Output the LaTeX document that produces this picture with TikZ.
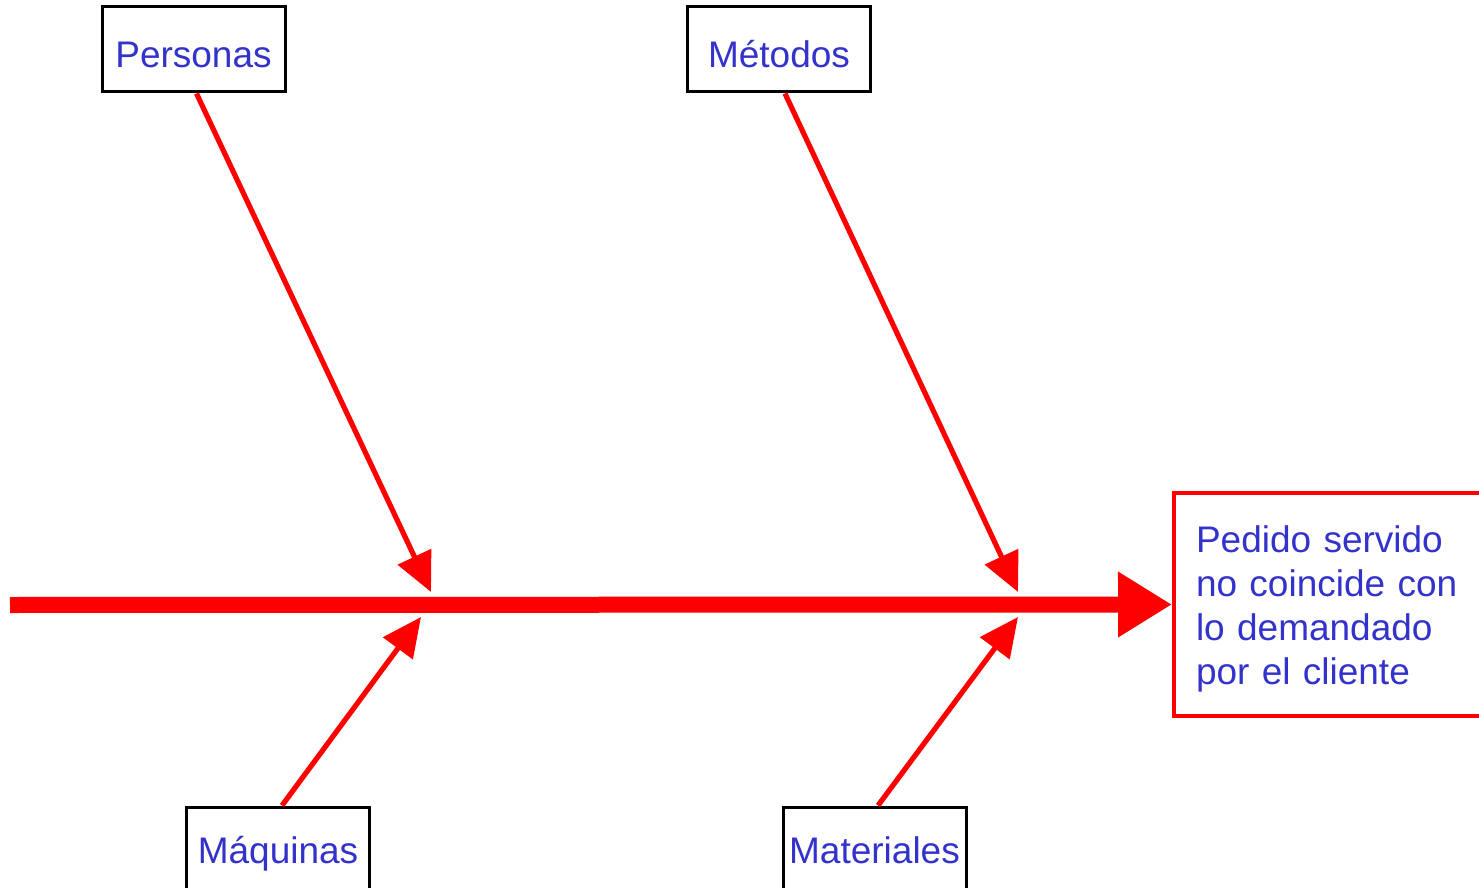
\documentclass[tikz,border=0pt]{standalone}
\usepackage{fontspec}
\setmainfont{Liberation Sans}
\usetikzlibrary{arrows.meta}
\definecolor{causeblue}{RGB}{51,51,204}

\begin{document}
\begin{tikzpicture}[x=.5pt, y=-.5pt,
        causebox/.style={draw=black, line width=1.5pt, fill=white, minimum width=91.5pt, minimum height=42.5pt, inner sep=0pt, text depth=0pt, text=causeblue, font=\fontsize{18.5}{22}\selectfont},
        bone/.style={draw=red, line width=2.6pt, -{Triangle[length=19.5pt, width=18pt]}},
        spine/.style={draw=red, line width=8pt, -{Triangle[length=27pt, width=31pt]}}]
        \useasboundingbox (0, 0) rectangle (1479, 888);
        \clip (0, 0) rectangle (1479, 888);
        % causes
        \node[causebox, text height=18.5pt] (pers) at (193.5, 49.5) {Personas};
        \node[causebox, text height=18.5pt] (met) at (779, 49.5) {Métodos};
        \node[causebox, text height=14pt] (maq) at (278, 849.5) {Máquinas};
        \node[causebox, text height=14pt] (mat) at (874.5, 849.5) {Materiales};
        % effect
        \node[draw=red, line width=2pt, anchor=west, minimum height=111.5pt, text width=150pt, inner xsep=11pt, align=left, text=causeblue, font=\fontsize{18.5}{22}\selectfont] (effect) at (1172, 604.5) {\rule{0pt}{17.5pt}Pedido servido\\no coincide con\\lo demandado\\por el cliente};
        \coordinate (start) at (10, 605);
        \coordinate (persTip) at (431, 592);
        \coordinate (metTip) at (1018, 592);
        \coordinate (maqTip) at (421, 617);
        \coordinate (matTip) at (1018, 617);
        \draw[spine] (start) -- (effect.west);
        \draw[bone] ([xshift=1.5pt]pers.south) -- (persTip);
        \draw[bone] ([xshift=3pt]met.south) -- (metTip);
        \draw[bone] ([xshift=2pt]maq.north) -- (maqTip);
        \draw[bone] ([xshift=1.75pt]mat.north) -- (matTip);
    \end{tikzpicture}
\end{document}
